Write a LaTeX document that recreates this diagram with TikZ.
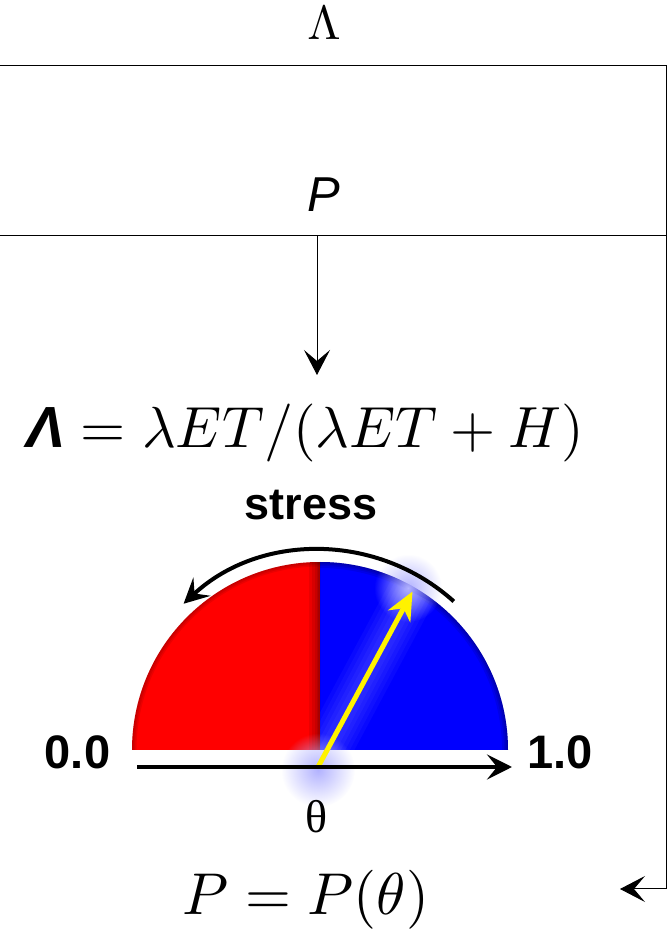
\documentclass[tikz,border=0pt]{standalone}
\usepackage{fontspec}
\newfontfamily\arial{Liberation Sans}
\newfontfamily\serifgr{Liberation Serif}
\usetikzlibrary{arrows.meta,fadings}
\tikzfading[name=glow, inner color=transparent!0, outer color=transparent!100]

\begin{document}
\begin{tikzpicture}[x=1pt,y=1pt,>=Stealth,
  txt/.style={inner sep=0pt, anchor=base},
  bold/.style={txt, font=\arial\bfseries},
  conn/.style={line width=1pt, -{Stealth[length=25pt,width=26pt,inset=11pt]}},
  fat/.style={line width=4pt, -{Stealth[length=25pt,width=25pt,inset=10pt]}}]
\useasboundingbox (0,0) rectangle (667,930);
% ---------- top: box with P ----------
\node[draw, line width=1pt, minimum width=671pt, minimum height=170.5pt,
      inner sep=0pt] (box) at (330.5,779.25) {};
\node[txt, scale=4.8] (lam) at (324,890) {$\Lambda$};
\node[txt, scale=4.9] (ptxt) at (324,718) {\arial\itshape P};
% ---------- formula ----------
\node[txt, scale=5.8] (eq) at (305,482)
      {{\arial\bfseries\itshape Λ}${}=\lambda ET/(\lambda ET+H)$};
\coordinate (eqin) at (317,555);
\draw[conn] (box.south -| eqin) -- (eqin);
% ---------- dial ----------
\coordinate (ctr) at (320,180);
\fill[red] (ctr) -- (132,180) arc[start angle=180, end angle=90, radius=188] -- cycle;
\fill[blue] (ctr) -- (508,180) arc[start angle=0, end angle=90, radius=188] -- cycle;
% shadows: red darkens at the divider, both at the rim
\begin{scope}
  \clip (ctr) -- (132,180) arc[start angle=180, end angle=90, radius=188] -- cycle;
  \foreach \w in {22,16,11,7,4}
    \draw[black, opacity=0.08, line width=\w pt] (ctr) -- (320,368);
  \foreach \w in {9,6,3}
    \draw[black, opacity=0.08, line width=\w pt] (132,180)
      arc[start angle=180, end angle=90, radius=188];
\end{scope}
\begin{scope}
  \clip (ctr) -- (508,180) arc[start angle=0, end angle=90, radius=188] -- cycle;
  \foreach \w in {12,8,5,2}
    \draw[black, opacity=0.09, line width=\w pt] (508,180)
      arc[start angle=0, end angle=90, radius=188];
  % light streak along the needle
  \foreach \w in {48,40,32,24,16}
    \draw[white, opacity=0.035, line width=\w pt] (318,163) -- (412,338);
\end{scope}
% glows
\fill[blue!30!white, path fading=glow] (408,342) circle (34);
\fill[blue!30!white, path fading=glow] (318,160) circle (37);
% needle
\coordinate (base) at (318,163);
\coordinate (needle) at (412.5,338.5);
\draw[yellow, line width=5pt, -{Stealth[length=28pt,width=25pt,inset=9pt]}]
  (base) -- (needle);
% arrows
\draw[fat] (453.8,328.6) arc[start angle=48, end angle=133, radius=200];
\draw[fat] (137,163) -- (512,163);
% ---------- labels ----------
\node[bold, scale=4.5] (stress) at (311,410) {stress};
\node[bold, scale=4.7] (lo) at (77.5,162) {0.0};
\node[bold, scale=4.7] (hi) at (560,162) {1.0};
\node[txt, scale=4.6] (th) at (316.5,98) {\serifgr θ};
\node[txt, scale=5.9] (peq) at (306,16) {$P=P(\theta)$};
% ---------- feedback ----------
\coordinate (pin) at (620,41);
\draw[conn] (box.south east) |- (pin);
\end{tikzpicture}
\end{document}
